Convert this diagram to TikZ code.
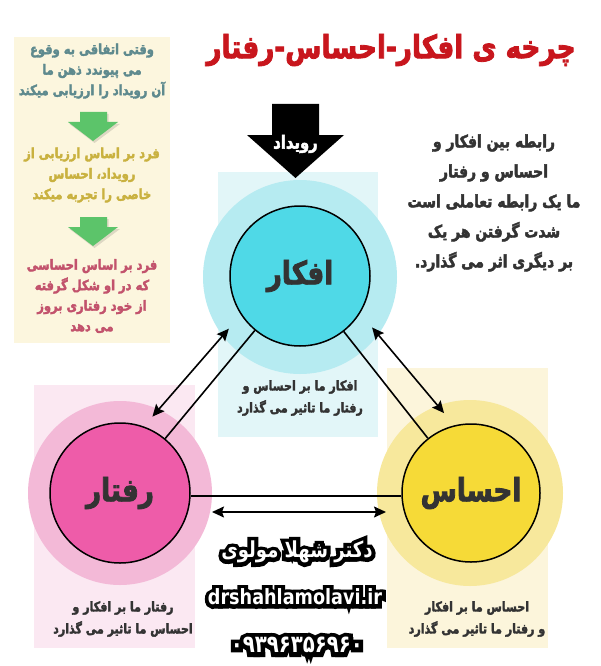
\documentclass[tikz,border=0pt]{standalone}
\usepackage{fontspec}
\usetikzlibrary{arrows.meta}
\TeXXeTstate=1
\newfontfamily\arabicfont[Script=Arabic,FakeStretch=0.82,BoldFeatures={FakeBold=2.5}]{DejaVu Sans}
\newfontface\sigoutfa[Script=Arabic,FakeStretch=0.82,FakeBold=36]{DejaVu Sans Bold}
\newfontface\sigfa[Script=Arabic,FakeStretch=0.82]{DejaVu Sans Bold}
\newfontface\sigoutlat[FakeStretch=0.84,FakeBold=36]{DejaVu Sans Bold}
\newfontface\siglat[FakeStretch=0.84]{DejaVu Sans Bold}
\newcommand{\fa}[1]{\beginR #1\endR}
\definecolor{titlered}{HTML}{C8161D}
\definecolor{panelbg}{HTML}{FCF6DE}
\definecolor{tealtext}{HTML}{5E8A8E}
\definecolor{mustard}{HTML}{C9B13F}
\definecolor{rosetext}{HTML}{C2526C}
\definecolor{greenarrow}{HTML}{5CC46A}
\definecolor{cyanbg}{HTML}{E2F6F8}
\definecolor{cyanhalo}{HTML}{B6EBF1}
\definecolor{cyanfill}{HTML}{4FD9E7}
\definecolor{pinkbg}{HTML}{FBE8F2}
\definecolor{pinkhalo}{HTML}{F3B9D7}
\definecolor{pinkfill}{HTML}{EE5CA9}
\definecolor{yellowbg}{HTML}{FCF5DB}
\definecolor{yellowhalo}{HTML}{F7E89C}
\definecolor{yellowfill}{HTML}{F6DA37}
\definecolor{darktext}{HTML}{333333}
\begin{document}
\begin{tikzpicture}[x=1pt,y=-1pt,
  panelrect/.style={draw=none,inner sep=0pt,anchor=north west},
  halo/.style={circle,minimum size=#1,inner sep=0pt,outer sep=-9pt,draw=none},
  core/.style={circle,minimum size=140pt,inner sep=0pt,draw=black,line width=1.5pt,text=darktext,
    font=\arabicfont\bfseries\fontsize{32}{36}\selectfont},
  captext/.style={text=darktext,align=center,font=\arabicfont\bfseries\fontsize{13.5}{22}\selectfont},
  paneltext/.style={align=center,font=\arabicfont\bfseries\fontsize{14}{20.5}\selectfont},
  plainlink/.style={line width=1.6pt},
  duallink/.style={line width=1.6pt,{Stealth[length=12pt,width=11pt,inset=2pt]}-{Stealth[length=12pt,width=11pt,inset=2pt]}},
  greenarr/.style={fill=greenarrow},
  sigtext/.style={text=white},
  sigout/.style={text=black}
]
\useasboundingbox (0,0) rectangle (600,666);
\fill[white] (0,0) rectangle (600,666);

% title
\node[text=titlered,font=\arabicfont\bfseries\fontsize{32}{38}\selectfont] (title) at (391,50) {\fa{چرخه ی افکار-احساس-رفتار}};

% left panel
\node[panelrect,fill=panelbg,minimum width=156pt,minimum height=306pt] (leftpanel) at (14,37) {};
\node[paneltext,text=tealtext] (t1) at (92,71) {\fa{وقتی اتفاقی به وقوع}\\\fa{می پیوندد ذهن ما}\\\fa{آن رویداد را ارزیابی میکند}};
\node[paneltext,text=mustard] (t2) at (92,175) {\fa{فرد بر اساس ارزیابی از}\\\fa{رویداد، احساس}\\\fa{خاصی را تجربه میکند}};
\node[paneltext,text=rosetext] (t3) at (92,296) {\fa{فرد بر اساس احساسی}\\\fa{که در او شکل گرفته}\\\fa{از خود رفتاری بروز}\\\fa{می دهد}};
\foreach \yy in {112,217}{
  \fill[black,opacity=0.12] (81.5,\yy+2) -- (108.5,\yy+2) -- (108.5,\yy+12) -- (120,\yy+12) -- (94.5,\yy+31) -- (69.5,\yy+12) -- (81.5,\yy+12) -- cycle;
  \fill[greenarr] (80,\yy) -- (107,\yy) -- (107,\yy+10) -- (118,\yy+10) -- (93,\yy+29) -- (68,\yy+10) -- (80,\yy+10) -- cycle;
}

% coloured background rectangles
\node[panelrect,fill=cyanbg,minimum width=160pt,minimum height=265pt] (cyanrect) at (218,172) {};
\node[panelrect,fill=pinkbg,minimum width=161pt,minimum height=263pt] (pinkrect) at (34,385) {};
\node[panelrect,fill=yellowbg,minimum width=161pt,minimum height=280pt] (yellowrect) at (387,368) {};

% halos
\node[halo=194pt,fill=cyanhalo] (afkarO) at (300,277) {};
\node[halo=184pt,fill=pinkhalo] (raftarO) at (120,493) {};
\node[halo=186pt,fill=yellowhalo] (ehsasO) at (470,493) {};

% event arrow
\fill[black] (272,104) -- (319,104) -- (319,135) -- (344,135) -- (295.5,178) -- (247,135) -- (272,135) -- cycle;
\node[text=white,font=\arabicfont\bfseries\fontsize{18}{20}\selectfont] (event) at (295.5,144) {\fa{رویداد}};

% cores
\node[core,fill=cyanfill] (afkar) at (300,276) {\fa{افکار}};
\node[core,fill=pinkfill] (raftar) at (120,493) {\fa{رفتار}};
\node[core,fill=yellowfill,minimum size=138pt] (ehsas) at (471,493) {\fa{احساس}};

% captions
\node[captext] (capA) at (300,398) {\fa{افکار ما بر احساس و}\\\fa{رفتار ما تاثیر می گذارد}};
\node[captext] (capR) at (123,619) {\fa{رفتار ما بر افکار و}\\\fa{احساس ما تاثیر می گذارد}};
\node[captext] (capE) at (477,619) {\fa{احساس ما بر افکار}\\\fa{و رفتار ما تاثیر می گذارد}};

% right text
\node[text=darktext,align=center,font=\arabicfont\bfseries\fontsize{17}{30}\selectfont] (note) at (494,203)
  {\fa{رابطه بین افکار  و}\\\fa{احساس  و رفتار}\\\fa{ما یک رابطه تعاملی است}\\\fa{شدت گرفتن هر یک}\\\fa{بر دیگری اثر می گذارد.}};

% connectors
\draw[plainlink] (raftar) -- (afkar);
\draw[duallink] (raftarO.67.5) -- (afkarO.216);
\draw[plainlink] (afkar) -- (ehsas);
\draw[duallink] (afkarO.325.5) -- (ehsasO.108);
\draw[plainlink] ([yshift=-3pt]raftar.east) -- ([yshift=-3pt]ehsas.west);
\draw[duallink,shorten <=9pt] ([yshift=-19pt]raftarO.east) -- ([yshift=-19pt]ehsasO.west);

% signature with outline
\node[sigout,font=\sigoutfa\fontsize{22}{26}\selectfont] (sig1o) at (297,552) {\fa{دکتر شهلا مولوی}};
\node[sigtext,font=\sigfa\fontsize{22}{26}\selectfont] (sig1) at (297,552) {\fa{دکتر شهلا مولوی}};
\node[sigout,font=\sigoutlat\fontsize{21}{26}\selectfont] (sig2o) at (295,597) {drshahlamolavi.ir};
\node[sigtext,font=\siglat\fontsize{21}{26}\selectfont] (sig2) at (295,597) {drshahlamolavi.ir};
\node[sigout,font=\sigoutfa\fontsize{24}{28}\selectfont] (sig3o) at (297,645) {۰۹۳۹۶۳۵۶۹۶۰};
\node[sigtext,font=\sigfa\fontsize{24}{28}\selectfont] (sig3) at (297,645) {۰۹۳۹۶۳۵۶۹۶۰};
\end{tikzpicture}
\end{document}
